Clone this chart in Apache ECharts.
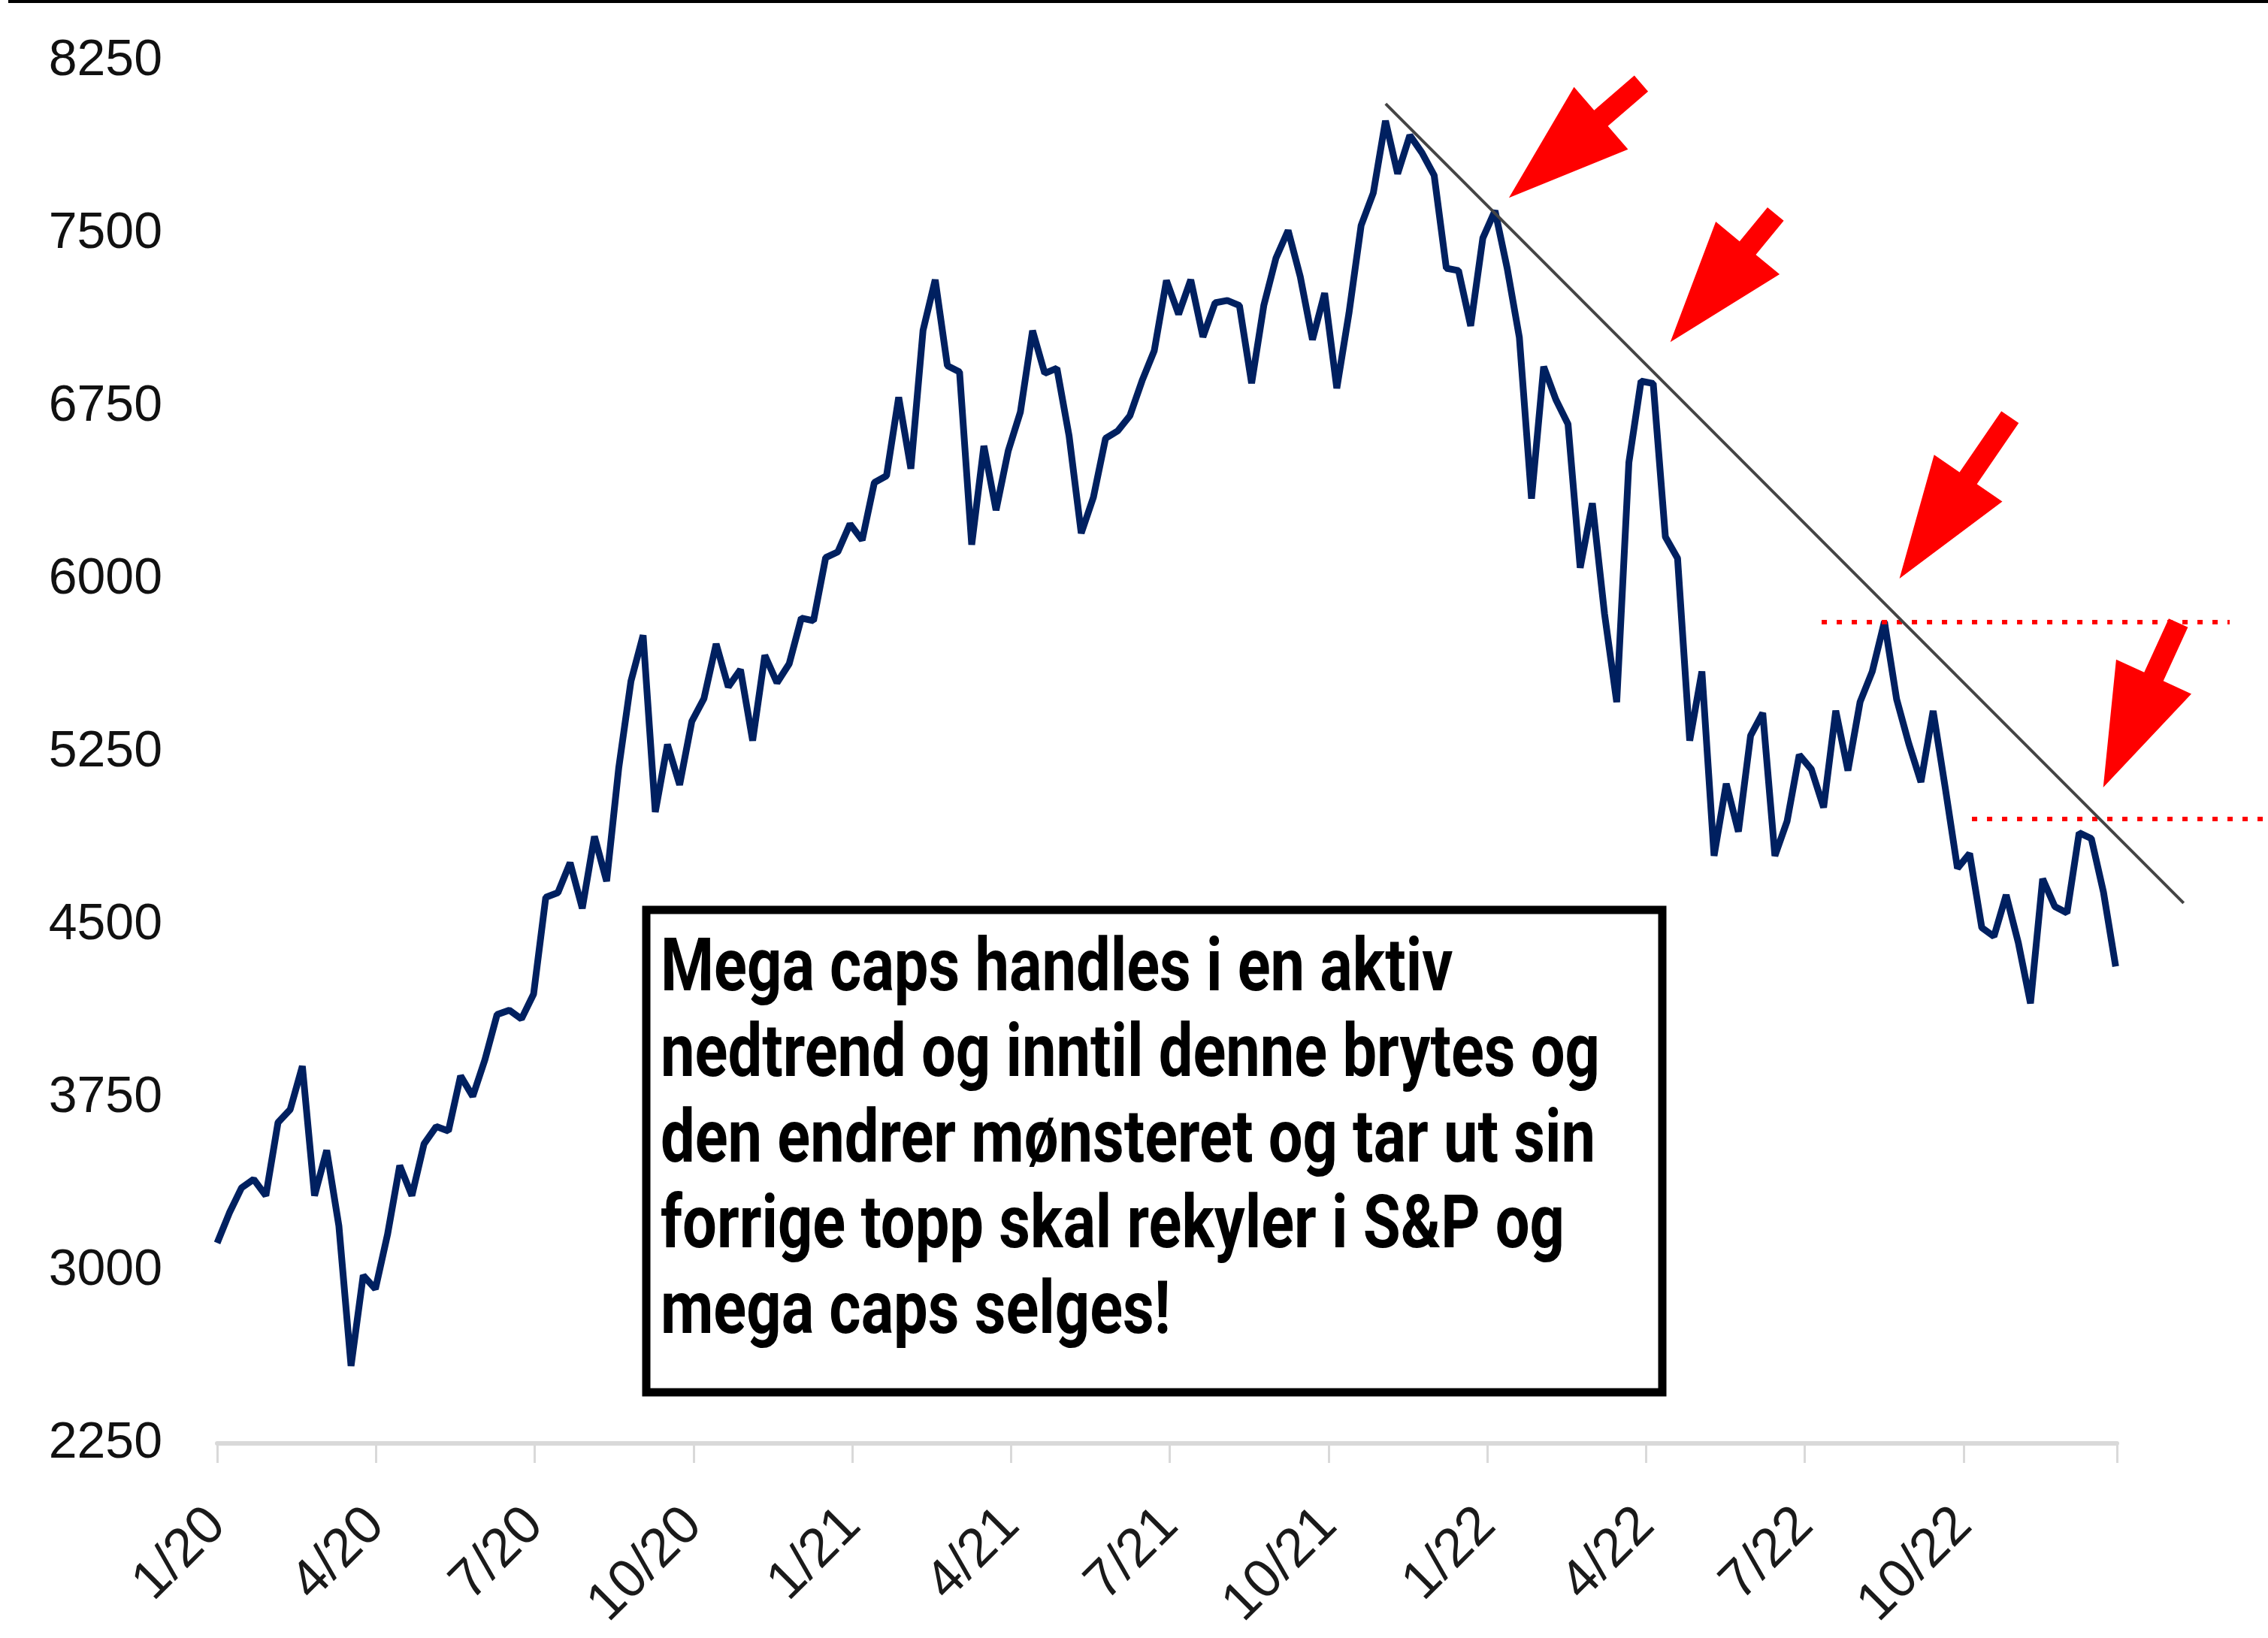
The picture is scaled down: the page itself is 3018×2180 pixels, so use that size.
<!DOCTYPE html>
<html>
<head>
<meta charset="utf-8">
<script src="https://cdn.jsdelivr.net/npm/echarts@6/dist/echarts.min.js"></script>
<style>
  html, body { margin: 0; padding: 0; background: #fff; }
  #chart { width: 3018px; height: 2180px; }
</style>
</head>
<body>
<div id="chart"></div>
<script>
// weekly closes, Jan 2020 -> Dec 2022
const weeklyClose = [
  3120, 3250, 3359, 3396, 3325, 3643, 3699, 3887, 3325, 3522,
  3194, 2586, 2979, 2920, 3157, 3456, 3325, 3550, 3625, 3606,
  3845, 3756, 3915, 4111, 4130, 4092, 4200, 4620, 4640, 4770,
  4572, 4884, 4690, 5183, 5558, 5757, 4990, 5283, 5108, 5383,
  5483, 5720, 5533, 5608, 5300, 5670, 5551, 5633, 5832, 5820,
  6094, 6119, 6240, 6170, 6420, 6449, 6790, 6480, 7080, 7300,
  6927, 6900, 6150, 6579, 6300, 6557, 6726, 7079, 6894, 6916,
  6623, 6200, 6356, 6612, 6644, 6710, 6862, 6992, 7297, 7150,
  7300, 7052, 7200, 7210, 7188, 6851, 7188, 7394, 7514, 7313,
  7040, 7242, 6829, 7155, 7536, 7677, 7990, 7760, 7927, 7851,
  7753, 7350, 7340, 7100, 7481, 7600, 7350, 7050, 6350, 6923,
  6780, 6673, 6050, 6330, 5850, 5467, 6507, 6860, 6850, 6184,
  6091, 5300, 5600, 4800, 5113, 4905, 5321, 5420, 4800, 4950,
  5238, 5175, 5010, 5430, 5170, 5468, 5600, 5816, 5480, 5287,
  5120, 5429, 5094, 4746, 4810, 4488, 4450, 4630, 4423, 4160,
  4700, 4580, 4552, 4900, 4875, 4642, 4320
];
const WEEK = 12 / 52.18; // x unit is months since 1/2020

// annotations, in [month, value]
const trendLine = [[22.08, 8064], [37.16, 4595]];
const upperLevel = [[30.32, 5814], [38.03, 5814]];
const lowerLevel = [[33.16, 4960], [38.8, 4960]];
const arrows = [
  { tip: [24.41, 7656], tail: [26.91, 8152] },
  { tip: [27.46, 7030], tail: [29.45, 7585] },
  { tip: [31.79, 6003], tail: [33.88, 6704] },
  { tip: [35.64, 5097], tail: [37.06, 5811] }
];
const noteLines = [
  'Mega caps handles i en aktiv',
  'nedtrend og inntil denne brytes og',
  'den endrer mønsteret og tar ut sin',
  'forrige topp skal rekyler i S&P og',
  'mega caps selges!'
];

const chart = echarts.init(document.getElementById('chart'));

chart.setOption({
  animation: false,
  backgroundColor: '#fff',
  grid: { left: 289, right: 201, top: 81, bottom: 259 },
  xAxis: {
    type: 'value',
    min: 0,
    max: 35.9,
    interval: 3,
    splitLine: { show: false },
    axisLine: { lineStyle: { color: '#d9d9d9', width: 6 } },
    axisTick: { show: true, length: 26, lineStyle: { color: '#d9d9d9', width: 3 } },
    axisLabel: {
      rotate: 45,
      margin: 98,
      fontSize: 72,
      fontFamily: 'Liberation Sans',
      color: '#1a1a1a',
      formatter: v => {
        if (v % 3 !== 0) return '';
        return (v % 12 + 1) + '/' + (20 + Math.floor(v / 12));
      }
    }
  },
  yAxis: {
    type: 'value',
    min: 2250,
    max: 8250,
    interval: 750,
    splitLine: { show: false },
    axisLine: { show: false },
    axisTick: { show: false },
    axisLabel: {
      margin: 73,
      fontSize: 68,
      fontFamily: 'Liberation Sans',
      color: '#111',
      formatter: v => String(v)
    }
  },
  series: [
    {
      type: 'line',
      data: weeklyClose.map((v, i) => [i * WEEK, v]),
      symbol: 'none',
      z: 3,
      lineStyle: { color: '#002060', width: 9 }
    }
  ]
});

// annotations drawn through the axis scales (they run past the plot edge)
const toPx = p => chart.convertToPixel({ xAxisIndex: 0, yAxisIndex: 0 }, p);

const HEAD_LEN = 162, HEAD_HALF = 55, SHAFT_HALF = 14;
const arrowShapes = arrows.map(a => {
  const t = toPx(a.tip), c = toPx(a.tail);
  const dx = c[0] - t[0], dy = c[1] - t[1];
  const len = Math.hypot(dx, dy);
  const ux = dx / len, uy = dy / len;
  const nx = -uy, ny = ux;
  const at = (along, side) => [t[0] + ux * along + nx * side, t[1] + uy * along + ny * side];
  return {
    type: 'polygon',
    z: 10,
    shape: {
      points: [
        t,
        at(HEAD_LEN, HEAD_HALF),
        at(HEAD_LEN, SHAFT_HALF),
        at(len, SHAFT_HALF),
        at(len, -SHAFT_HALF),
        at(HEAD_LEN, -SHAFT_HALF),
        at(HEAD_LEN, -HEAD_HALF)
      ]
    },
    style: { fill: '#ff0000' }
  };
});

const dottedLine = pts => ({
  type: 'polyline',
  z: 6,
  shape: { points: pts.map(toPx) },
  style: { stroke: '#ff0000', lineWidth: 6, lineDash: [7, 13], fill: null }
});

// squeeze the note text to the box width
const measure = document.createElement('canvas').getContext('2d');
measure.font = 'bold 98px Roboto';
const squeeze = 1250 / measure.measureText(noteLines[1]).width;

chart.setOption({
  graphic: [
    { type: 'rect', z: 20, shape: { x: 11, y: 0, width: 3007, height: 4 }, style: { fill: '#000' } },
    {
      type: 'polyline',
      z: 7,
      shape: { points: trendLine.map(toPx) },
      style: { stroke: '#444', lineWidth: 4, fill: null }
    },
    dottedLine(upperLevel),
    dottedLine(lowerLevel),
    {
      type: 'rect',
      z: 20,
      shape: { x: 860, y: 1211, width: 1352, height: 642 },
      style: { fill: '#fff', stroke: '#000', lineWidth: 11 }
    },
    {
      type: 'text',
      z: 21,
      x: 879,
      y: 1236,
      scaleX: squeeze,
      style: {
        text: noteLines.join('\n'),
        fontFamily: 'Roboto',
        fontWeight: 'bold',
        fontSize: 98,
        lineHeight: 114,
        fill: '#000'
      }
    }
  ].concat(arrowShapes)
});
</script>
</body>
</html>
